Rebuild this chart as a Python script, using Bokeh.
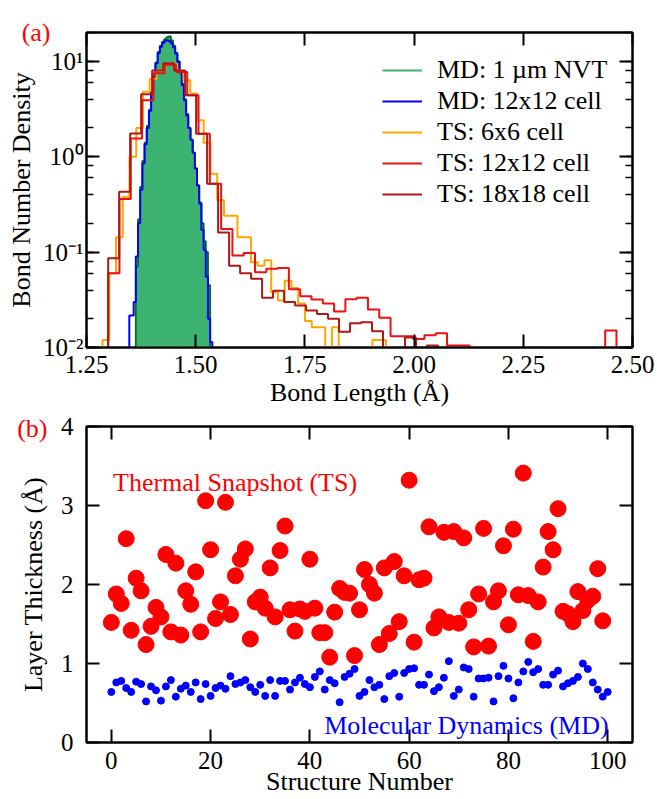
from bokeh.plotting import figure
from bokeh.models import (LinearAxis, LogAxis, LogTicker, FixedTicker, Range1d,
                          Label, Legend, LegendItem, CustomJSTickFormatter)
from bokeh.layouts import column
from bokeh.embed import file_html
from bokeh.resources import INLINE

FONT = "'Liberation Serif'"

# ---------------- panel (a): bond length distributions ----------------
x_ticks_a = [1.25, 1.50, 1.75, 2.00, 2.25, 2.50]
x_tick_labels_a = ["1.25", "1.50", "1.75", "2.00", "2.25", "2.50"]
y_ticks_a = [10, 1, 0.1, 0.01]
y_tick_labels_a = ["10\u00b9", "10\u2070", "10\u207b\u00b9", "10\u207b\u00b2"]

md12_start, md12_width = 1.348, 0.005
md12_density = [0.0216, 0.0216, 0.030, 0.090, 0.20, 0.45, 0.85, 1.35, 2.0, 3.0,
                4.7, 6.9, 9.5, 12.2, 14.2, 15.5, 16.3, 16.6, 16.2, 15.3,
                14.0, 12.0, 9.8, 7.6, 5.6, 3.9, 2.7, 2.0, 1.5, 1.1,
                0.75, 0.50, 0.32, 0.17, 0.105, 0.055, 0.02, 0.0114]

md1um_start, md1um_width = 1.363, 0.005
md1um_density = [0.07, 0.22, 0.48, 0.9, 1.4, 2.1, 3.1, 4.8, 7.0, 9.7,
                 12.5, 14.5, 16.0, 17.0, 17.8, 18.2, 16.5, 14.5, 12.3, 10.0,
                 7.8, 5.8, 4.0, 2.8, 2.0, 1.5, 1.1, 0.75, 0.50, 0.33,
                 0.2, 0.13, 0.10, 0.045]

ts6_start, ts6_width = 1.2866, 0.01545
ts6_density = [0.012, 0.06, 0.143, 0.38, 1.0, 2.0, 4.8, 6.5, 8.0, 9.4,
               9.4, 8.0, 6.3, 4.6, 2.4, 1.4, 0.66, 0.35, 0.24, 0.24,
               0.143, 0.143, 0.078, 0.072, 0.082, 0.038, 0.031, 0.050, 0.042, 0.029,
               0.019, 0.0163, 0.0163, 0, 0.0163, 0, 0, 0, 0, 0,
               0.012, 0.012]

ts12_start, ts12_width = 1.2996, 0.02586
ts12_density = [0.060, 0.36, 1.55, 3.9, 7.5, 9.2, 7.7, 4.4, 1.74, 0.52,
                0.175, 0.092, 0.0975, 0.0614, 0.0668, 0.068, 0.0409, 0.0345, 0.0318, 0.0289,
                0.0239, 0.032, 0.0333, 0.025, 0.0205, 0.0131, 0.0131, 0.0123, 0.0134, 0.0141,
                0.0105, 0.0105, 0, 0, 0, 0, 0, 0, 0, 0,
                0, 0, 0, 0, 0.0151]

ts18_start, ts18_width = 1.2996, 0.02517
ts18_density = [0.086, 0.43, 1.75, 4.5, 8.0, 9.5, 8.0, 4.4, 1.74, 0.52,
                0.16, 0.072, 0.060, 0.0525, 0.0333, 0.0394, 0.030, 0.0275, 0.0244, 0.0225,
                0.0200, 0.0146, 0.0179, 0.0184, 0.0148, 0, 0, 0.0127, 0, 0.0105]

# ---------------- panel (b): layer thickness ----------------
x_ticks_b = [0, 20, 40, 60, 80, 100]
y_ticks_b = [0, 1, 2, 3, 4]

ts_thickness = [1.52, 1.88, 1.76, 2.58, 1.42, 2.08, 1.92, 1.24, 1.47, 1.71,
                1.59, 2.38, 1.40, 2.27, 1.36, 1.92, 1.75, 2.16, 1.40, 3.06,
                2.44, 1.57, 1.78, 3.04, 1.62, 2.11, 2.32, 2.45, 1.31, 1.78,
                1.84, 1.70, 2.21, 1.59, 2.43, 2.74, 1.68, 1.41, 1.69, 1.66,
                2.32, 1.70, 1.39, 1.39, 1.08, 1.65, 1.95, 1.90, 1.89, 1.10,
                1.68, 2.19, 2.00, 1.89, 1.24, 2.21, 1.38, 2.29, 1.53, 2.11,
                3.32, 1.27, 2.06, 2.08, 2.73, 1.45, 1.59, 2.66, 1.52, 2.67,
                1.51, 2.59, 1.68, 1.21, 1.88, 2.71, 1.22, 1.78, 1.92, 2.49,
                1.49, 2.70, 1.87, 3.41, 1.86, 1.28, 1.78, 2.22, 2.67, 2.44,
                2.96, 1.66, 1.63, 1.53, 1.91, 1.67, 1.80, 1.85, 2.20, 1.54]

md_thickness = [0.64, 0.76, 0.78, 0.69, 0.64, 0.77, 0.74, 0.52, 0.71, 0.66,
                0.53, 0.71, 0.79, 0.58, 0.68, 0.72, 0.64, 0.76, 0.55, 0.74,
                0.59, 0.69, 0.72, 0.68, 0.84, 0.74, 0.76, 0.79, 0.70, 0.64,
                0.73, 0.59, 0.79, 0.59, 0.78, 0.78, 0.67, 0.76, 0.82, 0.74,
                0.70, 0.83, 0.90, 0.67, 0.79, 0.75, 0.51, 0.83, 0.87, 0.93,
                0.59, 0.64, 0.79, 0.70, 0.73, 0.55, 0.84, 0.88, 0.58, 0.88,
                0.93, 0.94, 0.73, 0.73, 0.86, 0.65, 0.70, 0.82, 1.03, 0.59,
                0.67, 0.95, 0.93, 0.58, 0.81, 0.81, 0.82, 0.52, 0.84, 0.97,
                0.81, 0.56, 0.76, 0.90, 1.02, 0.89, 0.93, 0.73, 0.73, 0.86,
                0.91, 0.71, 0.75, 0.78, 0.83, 1.00, 0.93, 0.76, 0.67, 0.58,
                0.64]

ts_structure = list(range(len(ts_thickness)))
md_structure = list(range(len(md_thickness)))

FLOOR = 1e-4  # below the visible log range: empty bins drop to the axis


def step_xy(start, width, vals):
    xs, ys = [], []
    prev = FLOOR
    for i, v in enumerate(vals):
        left = start + i * width
        v = v if v > 0 else FLOOR
        xs += [left, left]
        ys += [prev, v]
        prev = v
    end = start + len(vals) * width
    xs += [end, end]
    ys += [prev, FLOOR]
    return xs, ys


def style_axis(ax, minor=True):
    ax.axis_line_color = "black"
    ax.axis_line_width = 2
    ax.major_tick_in = 13
    ax.major_tick_out = 0
    ax.major_tick_line_color = "black"
    ax.major_tick_line_width = 2
    if minor:
        ax.minor_tick_in = 7
        ax.minor_tick_out = 0
        ax.minor_tick_line_color = "black"
        ax.minor_tick_line_width = 1.5
    else:
        ax.minor_tick_line_color = None
    ax.major_label_text_font = FONT
    ax.major_label_text_font_size = "25px"
    ax.major_label_text_color = "black"
    ax.axis_label_text_font = FONT
    ax.axis_label_text_font_size = "26px"
    ax.axis_label_text_font_style = "normal"
    ax.axis_label_text_color = "black"


def blank_axis(ax):
    ax.formatter = CustomJSTickFormatter(code="return ''")
    ax.major_label_text_font_size = "0px"
    ax.major_label_standoff = 0


def panel_tag(axis_cls, tick, text, standoff):
    # an unlined side axis whose single tick label is the red panel tag
    ax = axis_cls(ticker=FixedTicker(ticks=[tick], minor_ticks=[]))
    ax.axis_line_color = None
    ax.major_tick_line_color = None
    ax.minor_tick_line_color = None
    ax.major_label_overrides = {tick: text}
    ax.major_label_standoff = standoff
    ax.major_label_text_color = "#FF0000"
    ax.major_label_text_font = FONT
    ax.major_label_text_font_size = "26px"
    return ax


# ================= figure (a) =================
p1 = figure(width=657, height=413, x_range=Range1d(1.25, 2.50), y_range=Range1d(0.01, 20),
            y_axis_type="log", output_backend="svg", toolbar_location=None,
            min_border_left=86, min_border_right=25, min_border_top=32, min_border_bottom=66)
p1.grid.visible = False
p1.outline_line_color = "black"
p1.outline_line_width = 2

gx, gy = step_xy(md1um_start, md1um_width, md1um_density)
p1.patch(gx, gy, fill_color="#3CB371", line_color=None)
r_green = p1.line(gx, gy, line_color="#3CB371", line_width=2)
p1.line(gx, gy, line_color="#006400", line_width=1.5)

bx, by = step_xy(md12_start, md12_width, md12_density)
r_blue = p1.line(bx, by, line_color="#0000FF", line_width=2)

ox, oy = step_xy(ts6_start, ts6_width, ts6_density)
r_orange = p1.line(ox, oy, line_color="#FFA500", line_width=2)

rx, ry = step_xy(ts12_start, ts12_width, ts12_density)
r_red = p1.line(rx, ry, line_color="#F01010", line_width=2)

dx, dy = step_xy(ts18_start, ts18_width, ts18_density)
r_dred = p1.line(dx, dy, line_color="#B01818", line_width=2)

xa = p1.xaxis[0]
style_axis(xa, minor=False)
xa.ticker = FixedTicker(ticks=x_ticks_a, minor_ticks=[])
xa.major_label_overrides = dict(zip(x_ticks_a, x_tick_labels_a))
xa.major_label_standoff = 8
xa.axis_label = "Bond Length (\u00c5)"
xa.axis_label_standoff = 2

ya = p1.yaxis[0]
style_axis(ya)
ya.ticker = LogTicker()
ya.major_label_overrides = dict(zip(y_ticks_a, y_tick_labels_a))
ya.major_label_standoff = 3
ya.axis_label = "Bond Number Density"
ya.axis_label_standoff = 4

p1.add_layout(panel_tag(LogAxis, 20, "(a)", -52), "left")

ta = LinearAxis(ticker=FixedTicker(ticks=x_ticks_a, minor_ticks=[]))
style_axis(ta, minor=False)
blank_axis(ta)
p1.add_layout(ta, "above")

ra = LogAxis(ticker=LogTicker())
style_axis(ra)
blank_axis(ra)
p1.add_layout(ra, "right")

legend = Legend(items=[LegendItem(label="MD: 1 \u00b5m NVT", renderers=[r_green]),
                       LegendItem(label="MD: 12x12 cell", renderers=[r_blue]),
                       LegendItem(label="TS: 6x6 cell", renderers=[r_orange]),
                       LegendItem(label="TS: 12x12 cell", renderers=[r_red]),
                       LegendItem(label="TS: 18x18 cell", renderers=[r_dred])],
                location=(296, 138), padding=0, margin=0, spacing=1,
                glyph_width=40, glyph_height=30, label_height=30, label_standoff=15,
                label_text_font=FONT, label_text_font_size="26px", label_text_color="black",
                background_fill_alpha=0, border_line_alpha=0)
p1.add_layout(legend)

# ================= figure (b) =================
p2 = figure(width=657, height=386, x_range=Range1d(-5, 105), y_range=Range1d(0, 4),
            output_backend="svg", toolbar_location=None,
            min_border_left=86, min_border_right=25, min_border_top=13, min_border_bottom=57)
p2.grid.visible = False
p2.outline_line_color = "black"
p2.outline_line_width = 2

p2.scatter(md_structure, md_thickness, size=7, color="#0000FF")
p2.scatter(ts_structure, ts_thickness, size=16, color="#FF0000")

xb = p2.xaxis[0]
style_axis(xb, minor=False)
xb.ticker = FixedTicker(ticks=x_ticks_b, minor_ticks=[])
xb.major_label_standoff = 9
xb.axis_label = "Structure Number"
xb.axis_label_standoff = -5
xb.axis_label_text_line_height = 0.6

yb = p2.yaxis[0]
style_axis(yb, minor=False)
yb.ticker = FixedTicker(ticks=y_ticks_b, minor_ticks=[])
yb.major_label_standoff = 13
yb.axis_label = "Layer Thickness (\u00c5)"
yb.axis_label_standoff = 10

p2.add_layout(panel_tag(LinearAxis, 3.98, "(b)", -38), "left")

tb = LinearAxis(ticker=FixedTicker(ticks=x_ticks_b, minor_ticks=[]))
style_axis(tb, minor=False)
blank_axis(tb)
p2.add_layout(tb, "above")

rb = LinearAxis(ticker=FixedTicker(ticks=y_ticks_b, minor_ticks=[]))
style_axis(rb, minor=False)
blank_axis(rb)
p2.add_layout(rb, "right")

p2.add_layout(Label(x=0.34, y=3.295, text="Thermal Snapshot (TS)", text_color="#FF0000",
                    text_font=FONT, text_font_size="26px", text_baseline="alphabetic"))
p2.add_layout(Label(x=100.2, y=0.215, text="Molecular Dynamics (MD)", text_color="#0000FF",
                    text_font=FONT, text_font_size="26px", text_baseline="alphabetic",
                    text_align="right"))

layout = column(p1, p2)
open("out.html", "w").write(file_html(layout, INLINE))
